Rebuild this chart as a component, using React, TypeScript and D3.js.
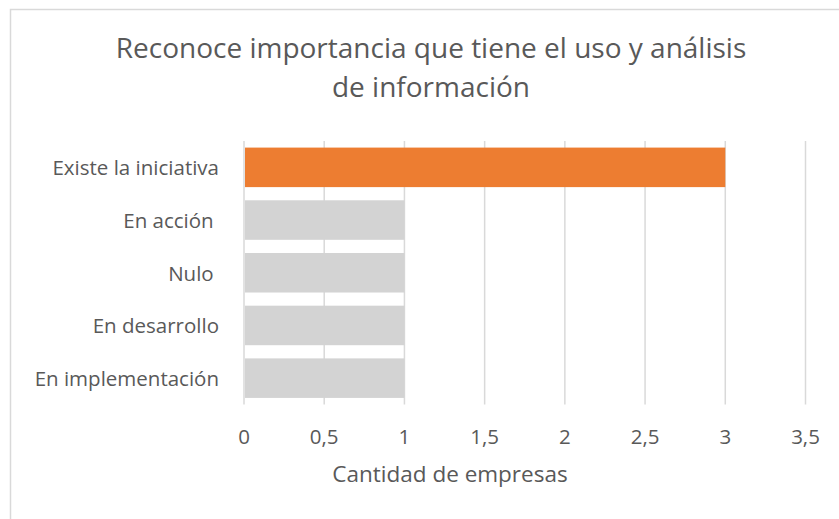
import React from "react";
import * as d3 from "d3";

const categories = ["Existe la iniciativa", "En acción ", "Nulo ", "En desarrollo", "En implementación"];
const values = [3, 1, 1, 1, 1];
const highlight = ["Existe la iniciativa"];
const xTicks = [0, 0.5, 1, 1.5, 2, 2.5, 3, 3.5];
const titleLines = ["Reconoce importancia que tiene el uso y análisis", "de información"];
const xTitle = "Cantidad de empresas";

const W = 839;
const H = 519;
const FONT = "'Open Sans', sans-serif";
const TEXT = "#595959";

export default function App() {
  const x = d3.scaleLinear().domain([0, 3.5]).range([244, 805.5]);
  const y = d3.scaleBand<string>().domain(categories).range([141, 404.5]).paddingInner(0.25).paddingOuter(0.125);
  const fmt = (v: number) => String(v).replace(".", ",");
  return (
    <svg
      width={W}
      height={H}
      style={{ position: "fixed", left: 0, top: 0, background: "#fff" }}
      fontFamily={FONT}
    >
      <rect x={0} y={0} width={W} height={H} fill="#fff" />
      <rect x={10.5} y={9.5} width={W + 20} height={H + 20} fill="#fff" stroke="#d9d9d9" strokeWidth={1.5} />
      {titleLines.map((t, i) => (
        <text key={i} x={431} y={58 + i * 38.7} textAnchor="middle" fontSize={28} fill={TEXT}>
          {t}
        </text>
      ))}
      {xTicks.map((t) => (
        <line key={"g" + t} x1={x(t)} x2={x(t)} y1={141} y2={404.5} stroke="#d9d9d9" strokeWidth={1.5} />
      ))}
      {categories.map((c, i) => (
        <rect
          key={c}
          x={x(0) + 1}
          y={y(c)!}
          width={x(values[i]) - x(0) - 1}
          height={y.bandwidth()}
          fill={highlight.includes(c) ? "#ED7D31" : "#D3D3D3"}
        />
      ))}
      {categories.map((c) => (
        <text
          key={"l" + c}
          x={219}
          y={y(c)! + y.bandwidth() / 2 + 8}
          textAnchor="end"
          fontSize={20.5}
          fill={TEXT}
          style={{ whiteSpace: "pre" }}
        >
          {c}
        </text>
      ))}
      {xTicks.map((t) => (
        <text key={"t" + t} x={x(t)} y={444} textAnchor="middle" fontSize={20.5} fill={TEXT}>
          {fmt(t)}
        </text>
      ))}
      <text x={450} y={482} textAnchor="middle" fontSize={22.5} fill={TEXT}>
        {xTitle}
      </text>
    </svg>
  );
}
